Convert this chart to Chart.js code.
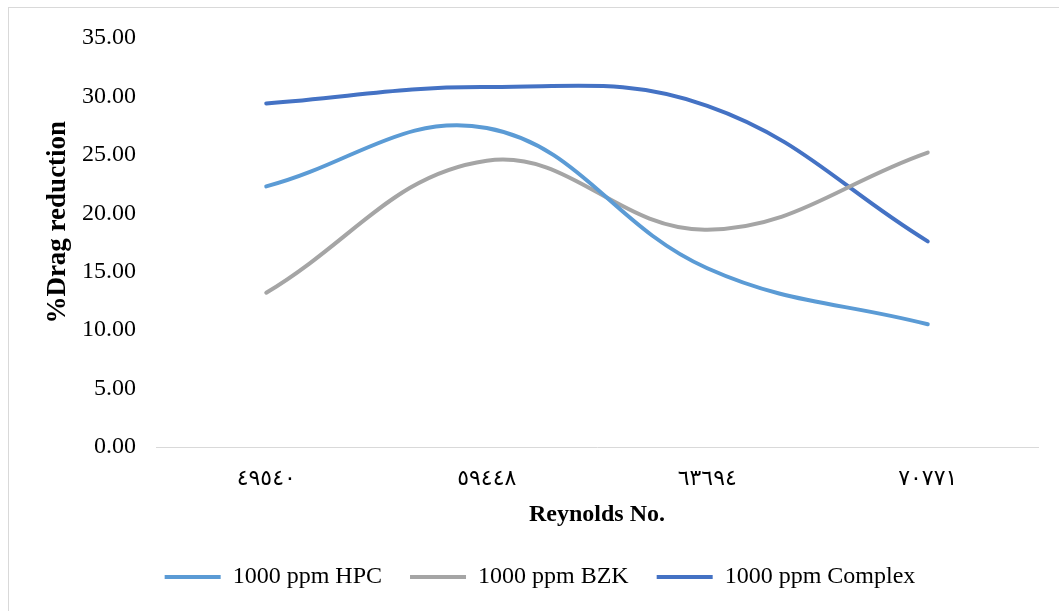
<!DOCTYPE html>
<html>
<head>
<meta charset="utf-8">
<script src="https://cdn.jsdelivr.net/npm/chart.js@4.4.1/dist/chart.umd.min.js"></script>
<style>
  html, body { margin: 0; padding: 0; background: #ffffff; }
  #frame {
    position: absolute; left: 8px; top: 7px; width: 1100px; height: 700px;
    border: 1px solid #d9d9d9; box-sizing: border-box;
  }
  #wrap { position: absolute; left: 0; top: 0; width: 1059px; height: 611px; }
</style>
</head>
<body>
<div id="frame"></div>
<div id="wrap"><canvas id="dragChart"></canvas></div>
<script>
// Drag reduction vs Reynolds number, 1000 ppm additives.
const reynoldsLabels = ['٤٩٥٤٠', '٥٩٤٤٨', '٦٣٦٩٤', '٧٠٧٧١'];

const hpc = [22.3, 27.3, 15.3, 10.5];
const bzk = [13.2, 24.5, 18.6, 25.2];
const complexMix = [29.4, 30.8, 29.2, 17.6];

const serif = '"Liberation Serif", "Times New Roman", serif';

new Chart(document.getElementById('dragChart').getContext('2d'), {
  type: 'line',
  data: {
    labels: reynoldsLabels,
    datasets: [
      // trailing spaces widen the gap between legend entries, like the original
      { label: '1000 ppm HPC   ', data: hpc, borderColor: '#5b9bd5', backgroundColor: '#5b9bd5' },
      { label: '1000 ppm BZK   ', data: bzk, borderColor: '#a5a5a5', backgroundColor: '#a5a5a5' },
      { label: '1000 ppm Complex', data: complexMix, borderColor: '#4472c4', backgroundColor: '#4472c4' }
    ]
  },
  options: {
    responsive: true,
    maintainAspectRatio: false,
    animation: false,
    datasets: {
      line: { borderWidth: 4, pointRadius: 0, tension: 0.4, borderCapStyle: 'round', fill: false }
    },
    layout: { padding: { top: 38, right: 21, left: 42, bottom: 12 } },
    plugins: {
      tooltip: { enabled: false },
      legend: {
        position: 'bottom',
        labels: {
          color: '#000000',
          font: { family: serif, size: 24 },
          usePointStyle: true,
          pointStyle: 'line',
          pointStyleWidth: 56,
          boxHeight: 24,
          padding: 10
        }
      }
    },
    scales: {
      x: {
        offset: true,
        grid: { display: false, drawTicks: false },
        border: { display: true, color: '#d9d9d9', width: 1 },
        ticks: { color: '#000000', padding: 19, font: { family: '"DejaVu Sans", sans-serif', size: 22 } },
        title: {
          display: true, text: 'Reynolds No.', color: '#000000',
          font: { family: serif, size: 24, weight: 'bold' },
          padding: { top: 0, bottom: 26 }
        },
        afterFit: (scale) => { scale.height = 108; }
      },
      y: {
        min: 0, max: 35,
        grid: { display: false, drawTicks: false },
        border: { display: false },
        ticks: {
          stepSize: 5, color: '#000000', padding: 20,
          font: { family: serif, size: 24 },
          callback: (v) => Number(v).toFixed(2)
        },
        title: {
          display: true, text: '      %Drag reduction', color: '#000000',
          font: { family: serif, size: 27, weight: 'bold' },
          padding: { top: 0, bottom: 0 }
        },
        afterFit: (scale) => { scale.width = 114; }
      }
    }
  }
});
</script>
</body>
</html>
